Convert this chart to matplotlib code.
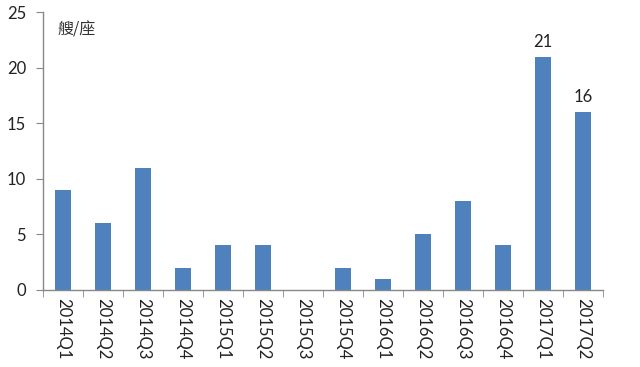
import matplotlib
matplotlib.use("Agg")
import matplotlib.pyplot as plt
from matplotlib.ticker import FixedLocator

plt.rcParams['font.family'] = ['Lato', 'Noto Sans CJK SC', 'DejaVu Sans']

categories = ["2014Q1", "2014Q2", "2014Q3", "2014Q4", "2015Q1", "2015Q2", "2015Q3",
              "2015Q4", "2016Q1", "2016Q2", "2016Q3", "2016Q4", "2017Q1", "2017Q2"]
values = [9, 6, 11, 2, 4, 4, 0, 2, 1, 5, 8, 4, 21, 16]
labeled = {"2017Q1": 21, "2017Q2": 16}
unit = "艘/座"
yticks = [0, 5, 10, 15, 20, 25]

fig = plt.figure(figsize=(6.4, 3.67), dpi=100)
ax = fig.add_axes([0.067, 0.21, 0.875, 0.757])

x = list(range(len(categories)))
ax.bar(x, values, width=0.4, color="#4F81BD", zorder=2)
for i, c in enumerate(categories):
    if c in labeled:
        ax.text(i, values[i] + 0.6, str(labeled[c]), ha="center", va="bottom",
                fontsize=12, color="#222222")

ax.set_xlim(-0.5, len(categories) - 0.5)
ax.set_ylim(0, 25)
ax.set_yticks(yticks)
ax.set_xticks(x)
ax.set_xticklabels(categories, rotation=270, fontsize=12, color="#222222")
ax.xaxis.set_minor_locator(FixedLocator([i - 0.5 for i in range(len(categories) + 1)]))
ax.tick_params(axis="x", which="major", length=0, pad=6)
ax.tick_params(axis="x", which="minor", length=5, color="#888888", direction="out")
ax.tick_params(axis="y", length=5, color="#888888", labelsize=12, labelcolor="#222222", pad=7)

for s in ["top", "right"]:
    ax.spines[s].set_visible(False)
for s in ["left", "bottom"]:
    ax.spines[s].set_color("#888888")
    ax.spines[s].set_linewidth(1.0)

ax.text(0.027, 0.965, unit, transform=ax.transAxes, ha="left", va="top",
        fontsize=11.5, color="#333333", family=['Noto Sans CJK SC', 'DejaVu Sans'])

fig.savefig("out.png", dpi=100)
